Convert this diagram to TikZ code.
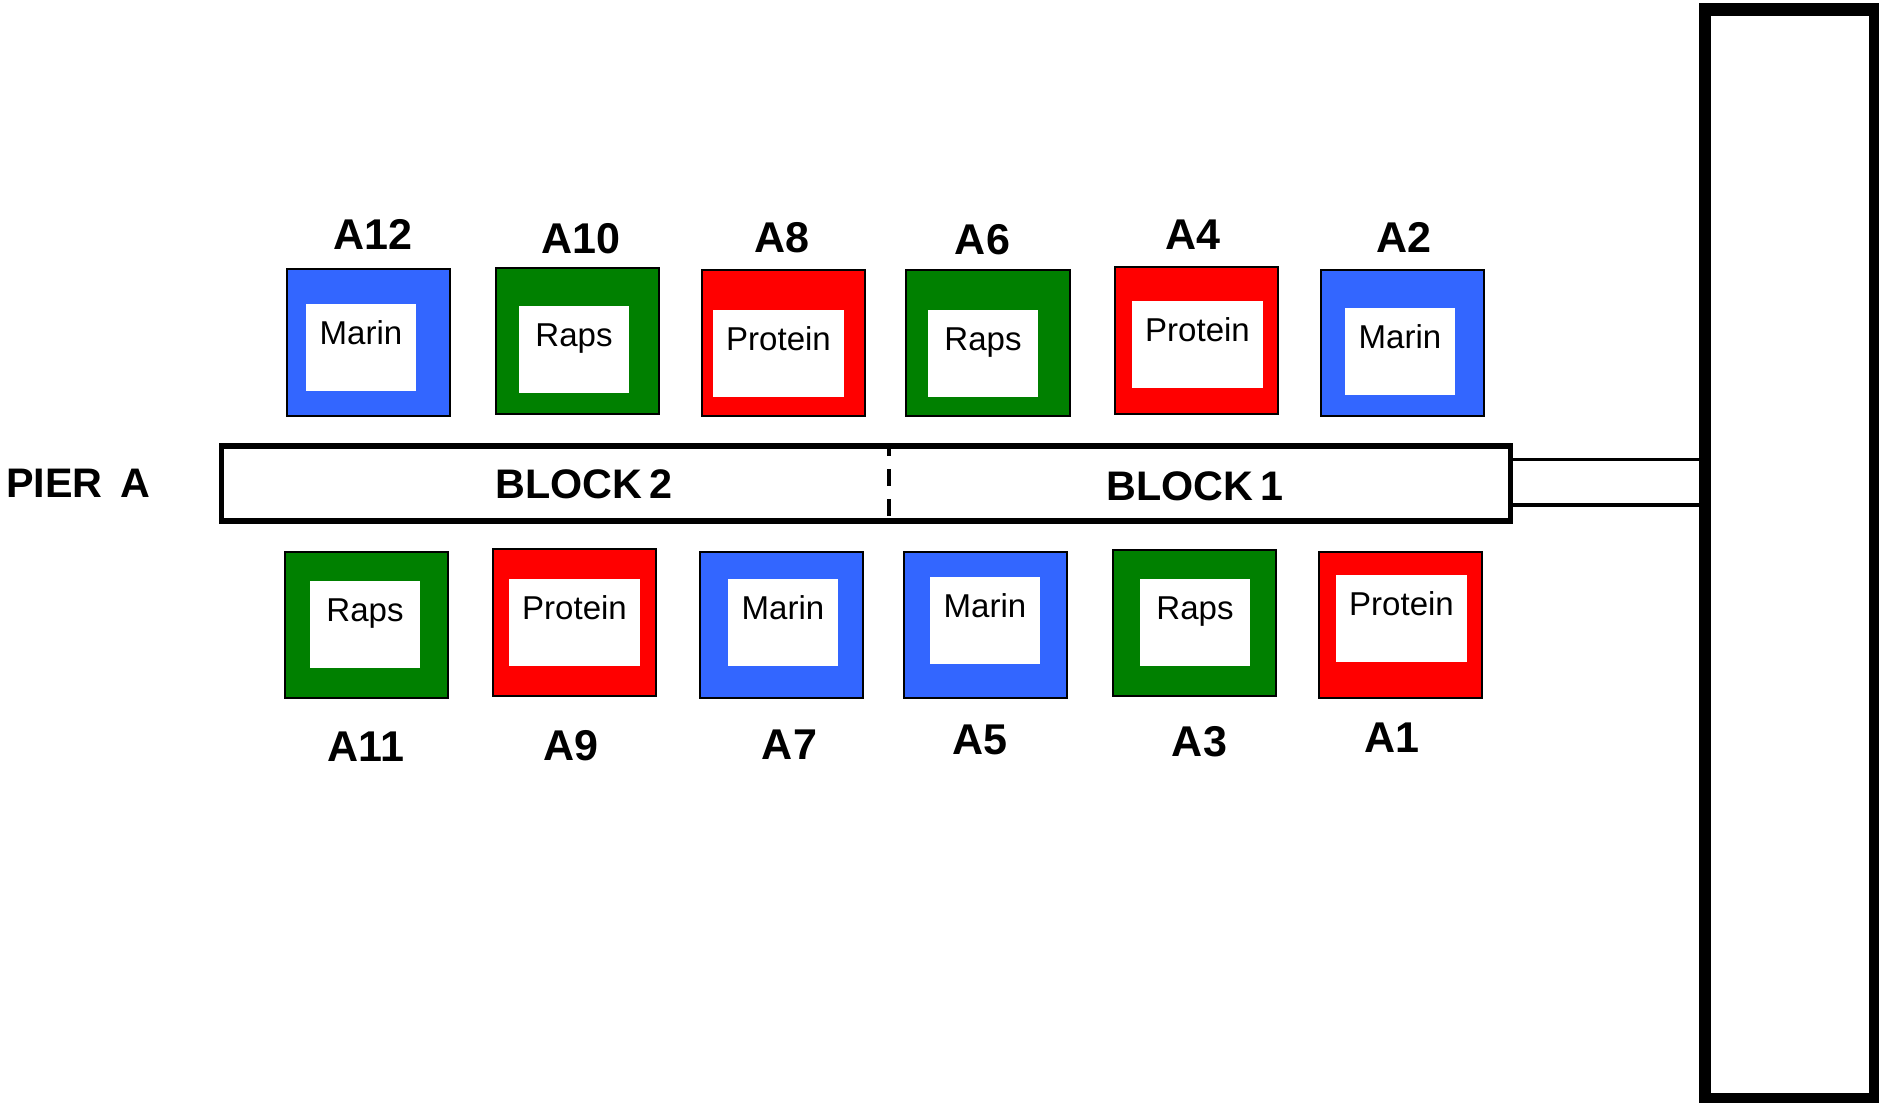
\documentclass[tikz,border=0pt]{standalone}
\usepackage{fontspec}
\setmainfont{Liberation Sans}
\usepackage{xcolor}
\usepackage{tikz}
\definecolor{marin}{HTML}{3366FF}
\definecolor{raps}{HTML}{008000}
\definecolor{protein}{HTML}{FF0000}

\begin{document}
\begin{tikzpicture}[
  x=0.2mm, y=-0.2mm,
  bin/.style={draw=black, line width=0.035cm, minimum width=3.27cm, minimum height=2.93cm, inner sep=0pt},
  slot/.style={fill=white, minimum width=2.2cm, minimum height=1.74cm, inner xsep=0pt, inner ysep=0.34cm, text height=0.472cm, text depth=0.588cm, font=\fontsize{18.8}{22}\selectfont},
  wide/.style={slot, minimum width=2.62cm},
  tag/.style={inner sep=0pt, font=\fontsize{24.5}{29}\selectfont\bfseries},
  title/.style={inner sep=0pt, font=\fontsize{23.5}{28}\selectfont\bfseries},
  rail/.style={line width=0.07cm}
]
  \useasboundingbox (0,0) rectangle (1879,1103);
  \node[draw, line width=0.25cm, minimum width=3.4cm, minimum height=21.8cm] (quay) at (1790,554.5) {};
  \node[draw, line width=0.11cm, minimum width=25.78cm, minimum height=1.5cm] (pier) at (866,483.5) {};
  \coordinate (cut) at (888.5,483.5);
  \draw[line width=0.08cm, dash pattern=on 0.34cm off 0.26cm, dash phase=0.08cm] (cut |- pier.north) -- (cut |- pier.south);
  \draw[rail] (pier.east |- 0,459.5) -- (quay.west |- 0,459.5);
  \draw[rail] (pier.east |- 0,505) -- (quay.west |- 0,505);
  \node[title] (piera) at (78,483) {PIER\hspace{0.15em} A};
  \node[title] (block2) at (584,484) {BLOCK\,2};
  \node[title] (block1) at (1195,486) {BLOCK\,1};

  \node[bin, fill=marin] (a12) at (368.5,342.5) {};
  \node[slot] (s12) at (361,347.5) {Marin};
  \node[tag] (t12) at (373,234) {A12};
  \node[bin, fill=raps] (a10) at (577.5,341) {};
  \node[slot] (s10) at (574,349.5) {Raps};
  \node[tag] (t10) at (581,239) {A10};
  \node[bin, fill=protein] (a8) at (783.5,343) {};
  \node[wide] (s8) at (778.5,353.5) {Protein};
  \node[tag] (t8) at (782,238) {A8};
  \node[bin, fill=raps] (a6) at (988,343) {};
  \node[slot] (s6) at (983,353.5) {Raps};
  \node[tag] (t6) at (982.5,240) {A6};
  \node[bin, fill=protein] (a4) at (1196.5,340.5) {};
  \node[wide] (s4) at (1197.5,344.5) {Protein};
  \node[tag] (t4) at (1193,234.5) {A4};
  \node[bin, fill=marin] (a2) at (1402.5,343) {};
  \node[slot] (s2) at (1400,351.5) {Marin};
  \node[tag] (t2) at (1404,237) {A2};

  \node[bin, fill=raps] (a11) at (366.5,625) {};
  \node[slot] (s11) at (365,624.5) {Raps};
  \node[tag] (t11) at (366,747) {A11};
  \node[bin, fill=protein] (a9) at (574.5,622.5) {};
  \node[wide] (s9) at (574.5,622.5) {Protein};
  \node[tag] (t9) at (571,746) {A9};
  \node[bin, fill=marin] (a7) at (781.5,625) {};
  \node[slot] (s7) at (783,622.5) {Marin};
  \node[tag] (t7) at (789.5,745) {A7};
  \node[bin, fill=marin] (a5) at (985.5,625) {};
  \node[slot] (s5) at (985,620.5) {Marin};
  \node[tag] (t5) at (980,740) {A5};
  \node[bin, fill=raps] (a3) at (1194.5,623) {};
  \node[slot] (s3) at (1195,622.5) {Raps};
  \node[tag] (t3) at (1199.5,742) {A3};
  \node[bin, fill=protein] (a1) at (1400.5,625) {};
  \node[wide] (s1) at (1401.5,618.5) {Protein};
  \node[tag] (t1) at (1391.5,738) {A1};
\end{tikzpicture}
\end{document}
